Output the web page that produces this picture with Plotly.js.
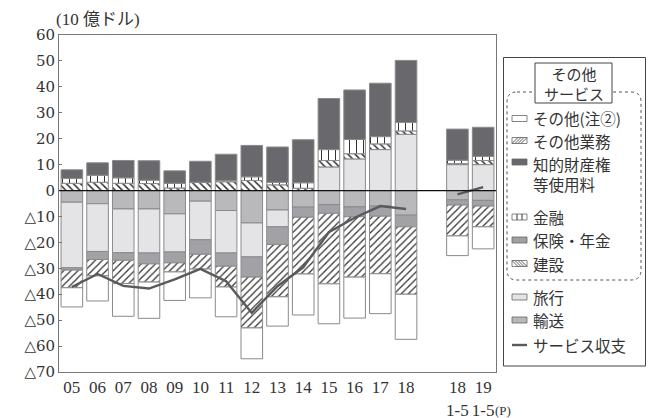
<!DOCTYPE html>
<html><head><meta charset="utf-8">
<script src="https://cdn.plot.ly/plotly-3.0.1.min.js"></script>
<style>html,body{margin:0;padding:0;background:#fff}#chart{width:659px;height:418px}</style>
</head><body><div id="chart"></div>
<script>
// ---- data (10億ドル) ----
const categories = ['05','06','07','08','09','10','11','12','13','14','15','16','17','18','18 1-5','19 1-5'];
const tickTop    = ['05','06','07','08','09','10','11','12','13','14','15','16','17','18','18','19'];
const tickBottom = ['','','','','','','','','','','','','','','1-5','1-5'];
const transport     = [-4.5,-5.1,-7.1,-7.1,-9.0,-4.1,-7.7,-12.5,-7.5,-6.4,-5.4,-6.3,-6.0,-9.5,-3.6,-3.8];
const travel        = [-25.3,-18.4,-16.9,-17.0,-14.7,-14.9,-16.4,-13.1,-6.5,0,9.1,12.2,15.8,21.7,10.0,10.0];
const insurance     = [-0.9,-3.1,-2.9,-4.2,-4.2,-5.6,-5.1,-7.8,-6.8,-3.9,-3.4,-3.8,-3.9,-4.5,-2.0,-2.2];
const construction  = [2.8,3.2,2.8,2.7,1.0,3.2,3.4,3.9,2.2,0.9,2.5,2.0,2.2,1.3,0.4,1.6];
const finance       = [1.9,2.7,2.1,1.3,1.8,0,0.5,1.4,1.0,2.1,4.2,5.5,2.8,3.3,1.3,1.6];
const ipCharges     = [3.3,4.8,6.7,7.5,4.8,8.1,10.1,12.1,13.6,16.6,19.7,19.1,20.6,23.9,12.0,11.2];
const otherBusiness = [-6.8,-6.3,-9.0,-7.0,-3.5,-5.7,-8.0,-19.6,-20.2,-21.9,-27.2,-23.3,-22.2,-26.0,-11.9,-8.0];
const otherServices = [-7.4,-9.7,-12.6,-14.0,-11.0,-11.1,-11.5,-11.9,-11.3,-15.8,-15.4,-15.8,-15.4,-17.4,-7.6,-8.5];
const balance       = [-37.2,-32.2,-36.8,-37.8,-34.3,-30.2,-35.0,-47.2,-36.9,-29.6,-16.1,-10.5,-6.0,-7.1,-1.5,1.3];
const yTicks = [60,50,40,30,20,10,0,-10,-20,-30,-40,-50,-60,-70];
const groupTitle = 'その他<br>サービス';
const legendNames = ['その他(注②)','その他業務','知的財産権<br>等使用料','金融','保険・年金','建設','旅行','輸送','サービス収支'];

// ---- positions: gap slot after the annual series ----
const nAnnual = 14;
const xs = categories.map((c,i)=> i < nAnnual ? i : i+1);

const outline = {color:'#8a8a8a', width:1};
function bar(y, color, pattern){
  const m = {color: color, line: outline};
  if (pattern) m.pattern = pattern;
  return {type:'bar', x: xs, y: y, width: 0.84, marker: m, showlegend:false, hoverinfo:'skip'};
}
const traces = [
  bar(transport, '#b9b9bc'),
  bar(travel, '#e4e4e6'),
  bar(insurance, '#a2a2a6'),
  bar(construction, '#ffffff', {shape:'\\', fgcolor:'#333', bgcolor:'#fff', size:5, solidity:0.3}),
  bar(finance, '#ffffff', {shape:'|', fgcolor:'#333', bgcolor:'#fff', size:7, solidity:0.15}),
  bar(ipCharges, '#69696d'),
  bar(otherBusiness, '#ffffff', {shape:'/', fgcolor:'#333', bgcolor:'#fff', size:5, solidity:0.25}),
  bar(otherServices, '#ffffff')
];
// balance line with break between annual and Jan-May values
const lx = [], ly = [];
xs.forEach((x,i)=>{ if (i === nAnnual){ lx.push(null); ly.push(null);} lx.push(x); ly.push(balance[i]); });
traces.push({type:'scatter', mode:'lines', x: lx, y: ly, connectgaps:false,
  line:{color:'#5a5a5a', width:2.4}, showlegend:false, hoverinfo:'skip'});

// ---- layout helpers (pixel -> paper) ----
const L=59, R=496, T=35, B=372;
const px = v => (v-L)/(R-L);
const py = v => (B-v)/(B-T);
const shapes = [], annotations = [];
function rect(x0,y0,x1,y1,fill,lc,lw){
  shapes.push({type:'rect',xref:'paper',yref:'paper',x0:px(x0),x1:px(x1),y0:py(y1),y1:py(y0),
    fillcolor:fill,line:{color:lc,width:lw},layer:'above'});
}
function seg(x0,y0,x1,y1,c,w,dash){
  shapes.push({type:'line',xref:'paper',yref:'paper',x0:px(x0),x1:px(x1),y0:py(y0),y1:py(y1),
    line:{color:c,width:w,dash:dash||'solid'},layer:'above'});
}
const jp = 'Noto Sans CJK JP, sans-serif';
function text(s,x,y,size,anchor,family,yanchor){
  annotations.push({text:s,xref:'paper',yref:'paper',x:px(x),y:py(y),xanchor:anchor||'left',yanchor:yanchor||'middle',
    align:anchor==='center'?'center':'left', borderpad:0,
    showarrow:false,font:{family:family||jp,size:size,color:'#333'}});
}

// zero line
shapes.push({type:'line',xref:'paper',x0:0,x1:1,yref:'y',y0:0,y1:0,line:{color:'#111',width:1.3},layer:'above'});

// legend frame
rect(503.5,57.5,645.5,366,'rgba(0,0,0,0)','#444',1);
// dotted rounded group box
(function(){
  const x0=507,y0=92,x1=641,y1=280,r=10;
  const P=(x,y)=>px(x)+','+py(y);
  const path = 'M'+P(x0+r,y0)+' L'+P(x1-r,y0)+' Q'+P(x1,y0)+' '+P(x1,y0+r)+' L'+P(x1,y1-r)+' Q'+P(x1,y1)+' '+P(x1-r,y1)+
    ' L'+P(x0+r,y1)+' Q'+P(x0,y1)+' '+P(x0,y1-r)+' L'+P(x0,y0+r)+' Q'+P(x0,y0)+' '+P(x0+r,y0)+' Z';
  shapes.push({type:'path',xref:'paper',yref:'paper',path:path,line:{color:'#555',width:1,dash:'dot'},layer:'above'});
})();
// group title box
rect(535,63,612,103,'#ffffff','#444',1);
text(groupTitle,573.5,83,15,'center');

// legend items
const sx0=512, sx1=527, hh=3;
const rows = [118.5,140.5,162,217,240,263.5,297,320,345];
function swatch(y,fill){ rect(sx0,y-hh,sx1,y+hh,fill,'#666',0.8); }
swatch(rows[0],'#ffffff');
swatch(rows[1],'#ffffff');
for (let x=sx0; x<=sx1-6; x+=3) seg(x,rows[1]+hh,x+6,rows[1]-hh,'#333',0.8);
swatch(rows[2],'#69696d');
swatch(rows[3],'#ffffff');
seg(517,rows[3]-hh,517,rows[3]+hh,'#333',1); seg(522,rows[3]-hh,522,rows[3]+hh,'#333',1);
swatch(rows[4],'#a2a2a6');
swatch(rows[5],'#ffffff');
for (let x=sx0; x<=sx1-6; x+=3) seg(x,rows[5]-hh,x+6,rows[5]+hh,'#333',0.8);
swatch(rows[6],'#e4e4e6');
swatch(rows[7],'#b9b9bc');
seg(sx0,rows[8],sx1,rows[8],'#5a5a5a',2.4);
legendNames.forEach((n,i)=>{
  if (i===2) text(n,532,rows[i]-10,15.5,'left',jp,'top');
  else text(n,532,rows[i],15.5,'left');
});

// axis title and (P)
text('(10 億ドル)',55,20,17,'left','Liberation Serif, Noto Sans CJK JP, serif');
text('(P)',494,411,13,'left','Liberation Serif, serif');

const layout = {
  width:659, height:418,
  margin:{l:L, r:659-R, t:T, b:418-B, pad:0},
  paper_bgcolor:'#fff', plot_bgcolor:'#fff',
  barmode:'relative', bargap:0,
  showlegend:false,
  xaxis:{range:[-0.5,16.5], tickmode:'array', tickvals:xs,
    ticktext: tickTop.map((t,i)=> tickBottom[i] ? t+'<br>'+tickBottom[i] : t),
    showgrid:false, zeroline:false, showline:true, mirror:true, linecolor:'#777', linewidth:1,
    ticks:'', tickfont:{family:'Liberation Serif, serif', size:17, color:'#333'}, fixedrange:true},
  yaxis:{range:[-70,60], tickmode:'array', tickvals:yTicks,
    ticktext: yTicks.map(v=> v<0 ? '△'+(-v) : String(v)),
    showgrid:false, zeroline:false, showline:true, mirror:true, linecolor:'#777', linewidth:1,
    ticks:'inside', ticklen:3, tickcolor:'#777',
    tickfont:{family:'DejaVu Serif, serif', size:15, color:'#333'}, fixedrange:true},
  shapes: shapes, annotations: annotations
};
Plotly.newPlot('chart', traces, layout, {displayModeBar:false, staticPlot:true});
</script></body></html>
